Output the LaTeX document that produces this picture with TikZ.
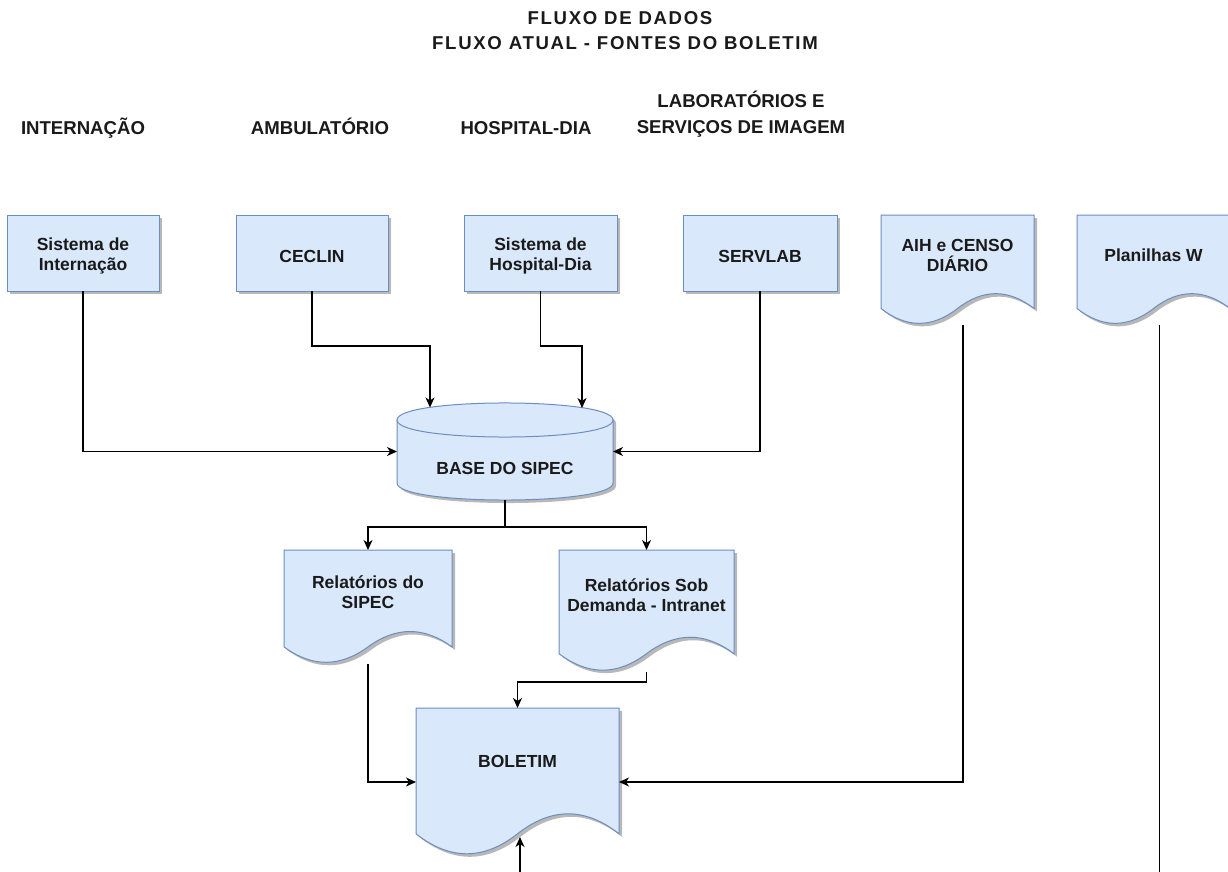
\documentclass[tikz,border=0pt]{standalone}
\usepackage{fontspec}
\setmainfont{Liberation Sans}
\newfontfamily\titlefont{Liberation Sans}[LetterSpace=9]
\usetikzlibrary{arrows.meta,calc}

\definecolor{boxfill}{HTML}{DAE8FC}
\definecolor{boxline}{HTML}{6C8EBF}
\definecolor{shade}{HTML}{B8B8B8}
\definecolor{ink}{HTML}{1A1A1A}

\tikzset{
  link/.style={draw=black, line width=1.4pt},
  flow/.style={link, -{Stealth[length=10pt,width=9pt,inset=3pt]}},
  outline/.style={fill=boxfill, draw=boxline, line width=1pt},
  dropshadow/.style={fill=shade, draw=none},
  frame/.style={inner sep=0pt, outer sep=0pt, draw=none},
  boxtext/.style={font=\bfseries\fontsize{17.5}{20}\selectfont, align=center, text=ink},
  headtext/.style={font=\bfseries\fontsize{18.6}{25}\selectfont, anchor=base, text=ink},
  titletext/.style={font=\titlefont\bfseries\fontsize{18.6}{25}\selectfont, anchor=base, text=ink},
}

% rectangular process box: name, left, top, width, height, label
\newcommand\procbox[6]{%
  \fill[dropshadow] ({#2+3},{#3+3}) rectangle ++(#4,#5);
  \path[outline] (#2,#3) rectangle ++(#4,#5);
  \node[frame, minimum width=#4pt, minimum height=#5pt, anchor=north west] (#1) at (#2,#3) {};
  \node[boxtext] (#1-label) at ({#2+0.5*#4},{#3+0.5*#5+3}) {#6};
}

% outline of a document sheet with a wavy lower edge
\newcommand\docpath[4]{%
  (#1,#2) -- ({#1+#3},#2) -- ({#1+#3},{#2+0.85*#4})
  .. controls ({#1+0.8333*#3},{#2+0.67*#4}) and ({#1+0.6667*#3},{#2+0.67*#4})
  .. ({#1+0.5*#3},{#2+0.85*#4})
  .. controls ({#1+0.3333*#3},{#2+1.03*#4}) and ({#1+0.1667*#3},{#2+1.03*#4})
  .. (#1,{#2+0.85*#4}) -- cycle
}

% document node: name, left, top, width, height, label
\newcommand\docnode[6]{%
  \fill[dropshadow, shift={(3,3)}] \docpath{#2}{#3}{#4}{#5};
  \path[outline] \docpath{#2}{#3}{#4}{#5};
  \node[frame, minimum width=#4pt, minimum height=#5pt, anchor=north west] (#1) at (#2,#3) {};
  \node[boxtext] (#1-label) at ({#2+0.5*#4},{#3+0.35*#5+2}) {#6};
}

\begin{document}
\begin{tikzpicture}[x=1pt, y=-1pt]
  \useasboundingbox (0,0) rectangle (1228,872);
  \clip (0,0) rectangle (1228,872);
  \fill[white] (0,0) rectangle (1228,872);

  % titles
  \node[titletext] (title1) at (620,25) {FLUXO DE DADOS};
  \node[titletext] (title2) at (625,50) {FLUXO ATUAL - FONTES DO BOLETIM};

  % column headings
  \node[headtext] (hintern) at (83,134.5) {INTERNAÇÃO};
  \node[headtext] (hambul) at (320,134.5) {AMBULATÓRIO};
  \node[headtext] (hhosp) at (526,134.5) {HOSPITAL-DIA};
  \node[headtext] (hlab1) at (741,108) {LABORATÓRIOS E};
  \node[headtext] (hlab2) at (741,133) {SERVIÇOS DE IMAGEM};

  % source systems
  \procbox{intern}{7}{215}{152}{76}{Sistema de\\Internação}
  \procbox{ceclin}{236}{215}{152}{76}{CECLIN}
  \procbox{hosp}{464}{215}{153}{76}{Sistema de\\Hospital-Dia}
  \procbox{servlab}{683}{215}{154}{76}{SERVLAB}

  % source documents
  \docnode{aih}{881}{215}{153}{110}{AIH e CENSO\\DIÁRIO}
  \docnode{plan}{1077}{215}{153}{110}{Planilhas W}

  % database cylinder
  \fill[dropshadow, shift={(3,3)}]
    (397,420) -- (397,483) .. controls (397,505.7) and (613,505.7) .. (613,483)
    -- (613,420) .. controls (613,397.3) and (397,397.3) .. cycle;
  \path[outline]
    (397,420) -- (397,483) .. controls (397,505.7) and (613,505.7) .. (613,483)
    -- (613,420) .. controls (613,397.3) and (397,397.3) .. cycle;
  \draw[draw=boxline, line width=1pt]
    (397,420) .. controls (397,442.7) and (613,442.7) .. (613,420);
  \node[frame, minimum width=216pt, minimum height=97pt, anchor=north west] (base) at (397,403) {};
  \node[boxtext] (base-label) at (505,468) {BASE DO SIPEC};

  % reports and bulletin
  \docnode{relsipec}{284}{550}{168}{114}{Relatórios do\\SIPEC}
  \docnode{sobdem}{559}{550}{175}{122}{Relatórios Sob\\Demanda - Intranet}
  \docnode{bol}{416}{708}{203}{148}{BOLETIM}

  % connector end points
  \coordinate (baseInA) at (430,407.5);
  \coordinate (baseInB) at (582,408);
  \coordinate (bolIn) at (520,837);
  \coordinate (bolSrc) at (520,880);

  % sources into the database
  \draw[flow] (intern.south) |- (base.west);
  \draw[flow] (ceclin.south) -- ++(0,55) -| (baseInA);
  \draw[flow] (hosp.south) -- ++(0,55) -| (baseInB);
  \draw[flow] (servlab.south) |- (base.east);

  % database into the reports
  \draw[link] (base.south) -- ++(0,27) coordinate (split);
  \draw[flow] (split) -| (relsipec.north);
  \draw[flow] (split) -| (sobdem.north);

  % everything into the bulletin
  \draw[flow] (relsipec.south) |- (bol.west);
  \draw[flow] (sobdem.south) -- ++(0,10) -| (bol.north);
  \draw[flow] ([xshift=5.5pt]aih.south) |- (bol.east);
  \draw[link] ([xshift=6pt]plan.south) -- ++(0,560);
  \draw[flow] (bolSrc) -- (bolIn);
\end{tikzpicture}
\end{document}
